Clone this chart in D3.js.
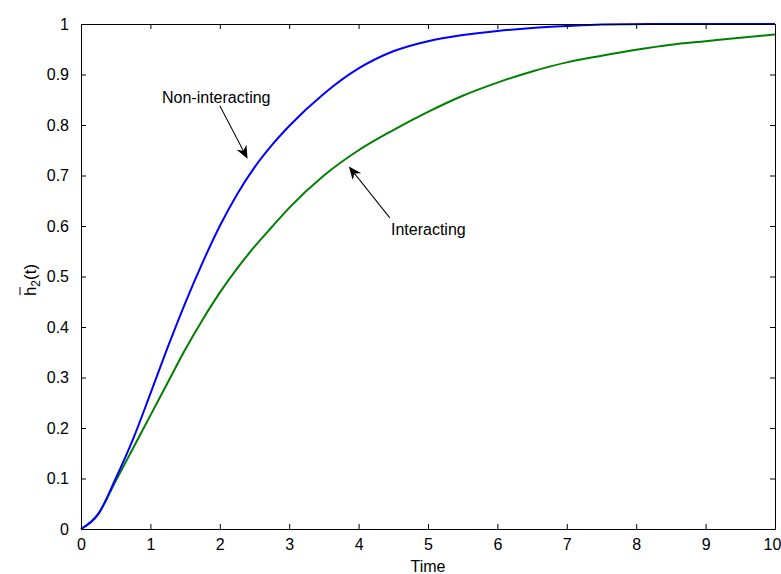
<!DOCTYPE html>
<html>
<head>
<meta charset="utf-8">
<script src="https://d3js.org/d3.v7.min.js"></script>
<style>
  body { margin: 0; background: #fff; }
  svg { display: block; }
  text { font-family: "Liberation Sans", Arial, sans-serif; fill: #000; }
</style>
</head>
<body>
<svg id="chart" width="781" height="574"></svg>
<script>
// values
var blueT = [0, 0.25, 0.5, 0.75, 1.0, 1.25, 1.5, 1.75, 2.0, 2.25, 2.5, 2.75, 3.0, 3.5, 4.0, 4.5, 5.0, 5.5, 6.0, 6.5, 7.0, 7.5, 8.2, 10]
var blueH = [0, 0.030, 0.100, 0.178, 0.268, 0.360, 0.447, 0.527, 0.600, 0.663, 0.716, 0.760, 0.798, 0.862, 0.912, 0.946, 0.966, 0.978, 0.986, 0.992, 0.996, 0.999, 1.0, 1.0]

var greenT = [0, 0.25, 0.5, 0.75, 1.0, 1.25, 1.5, 1.75, 2.0, 2.25, 2.5, 2.75, 3.0, 3.5, 4.0, 4.5, 5.0, 5.5, 6.0, 6.5, 7.0, 7.5, 8.0, 8.5, 9.0, 9.5, 10]
var greenH = [0, 0.030, 0.095, 0.160, 0.225, 0.290, 0.355, 0.414, 0.468, 0.516, 0.559, 0.598, 0.636, 0.700, 0.750, 0.790, 0.826, 0.858, 0.884, 0.906, 0.924, 0.937, 0.949, 0.959, 0.966, 0.973, 0.979]

var xTicks = [0, 1, 2, 3, 4, 5, 6, 7, 8, 9, 10]
var yTicks = [0, 0.1, 0.2, 0.3, 0.4, 0.5, 0.6, 0.7, 0.8, 0.9, 1]

// annotations: [label, label x, label y, tail t, tail h, head t, head h]
var notes = [
  ["Non-interacting", 162, 103, 2.0, 0.838, 2.4, 0.733],
  ["Interacting", 391, 235, 4.45, 0.616, 3.86, 0.718]
]

var margin = {left: 81, top: 24, right: 6, bottom: 45}
var width = 781 - margin.left - margin.right
var height = 574 - margin.top - margin.bottom

var svg = d3.select('#chart')
var g = svg.append('g')
  .attr('transform', `translate(${margin.left},${margin.top})`)

var x = d3.scaleLinear().domain([0, 10]).range([0, width])
var y = d3.scaleLinear().domain([0, 1]).range([height, 0])

// curves
var line = d3.line()
  .x(d => x(d[0]))
  .y(d => y(d[1]))
  .curve(d3.curveMonotoneX)

g.append('path')
  .datum(greenT.map((t, i) => [t, greenH[i]]))
  .attr('d', line)
  .attr('fill', 'none')
  .attr('stroke', '#008000')
  .attr('stroke-width', 2)

g.append('path')
  .datum(blueT.map((t, i) => [t, blueH[i]]))
  .attr('d', line)
  .attr('fill', 'none')
  .attr('stroke', '#0000ff')
  .attr('stroke-width', 2)

// box axes with inward ticks
function styleAxis(sel) {
  sel.selectAll('.domain').attr('stroke', '#000')
  sel.selectAll('.tick line').attr('stroke', '#000')
  sel.selectAll('text')
    .style('font-family', '"Liberation Sans", Arial, sans-serif')
    .style('font-size', '16px')
    .attr('fill', '#000')
}

var xAxis = g.append('g')
  .attr('transform', `translate(0,${height})`)
  .call(d3.axisBottom(x).tickValues(xTicks).tickFormat(d3.format('d'))
    .tickSizeInner(-5).tickSizeOuter(0).tickPadding(10))
  .call(styleAxis)
// keep the last label inside the window
xAxis.selectAll('.tick text').filter(d => d === 10).attr('dx', -3)

g.append('g')
  .call(d3.axisTop(x).tickValues(xTicks).tickFormat('')
    .tickSizeInner(-5).tickSizeOuter(0))
  .call(styleAxis)

g.append('g')
  .call(d3.axisLeft(y).tickValues(yTicks).tickFormat(d3.format('~g'))
    .tickSizeInner(-5).tickSizeOuter(0).tickPadding(12))
  .call(styleAxis)

g.append('g')
  .attr('transform', `translate(${width},0)`)
  .call(d3.axisRight(y).tickValues(yTicks).tickFormat('')
    .tickSizeInner(-5).tickSizeOuter(0))
  .call(styleAxis)

// axis titles
svg.append('text')
  .attr('x', margin.left + width / 2)
  .attr('y', 572)
  .attr('text-anchor', 'middle')
  .style('font-size', '16px')
  .text('Time')

var yl = svg.append('g')
  .attr('transform', 'translate(36,280) rotate(-90)')
var ylt = yl.append('text')
  .attr('text-anchor', 'middle')
  .style('font-size', '17px')
ylt.append('tspan').text('h')
ylt.append('tspan').attr('dy', 4).style('font-size', '12px').text('2')
ylt.append('tspan').attr('dy', -4).text('(t)')
var yLen = ylt.node().getComputedTextLength()
yl.append('line')
  .attr('x1', -yLen / 2 + 1).attr('x2', -yLen / 2 + 9)
  .attr('y1', -16).attr('y2', -16)
  .attr('stroke', '#000').attr('stroke-width', 1)

// annotation arrows
notes.forEach(function(n) {
  var x1 = x(n[3]) + margin.left, y1 = y(n[4]) + margin.top
  var x2 = x(n[5]) + margin.left, y2 = y(n[6]) + margin.top
  var ang = Math.atan2(y2 - y1, x2 - x1) * 180 / Math.PI
  var len = Math.hypot(x2 - x1, y2 - y1)
  var a = svg.append('g')
    .attr('transform', `translate(${x1},${y1}) rotate(${ang})`)
  a.append('line')
    .attr('x1', 0).attr('y1', 0)
    .attr('x2', len - 6).attr('y2', 0)
    .attr('stroke', '#000').attr('stroke-width', 1)
  a.append('path')
    .attr('d', `M${len},0 L${len - 13},-5.5 L${len - 9},0 L${len - 13},5.5 Z`)
    .attr('fill', '#000')
  svg.append('text')
    .attr('x', n[1]).attr('y', n[2])
    .style('font-size', '16px')
    .text(n[0])
})
</script>
</body>
</html>
